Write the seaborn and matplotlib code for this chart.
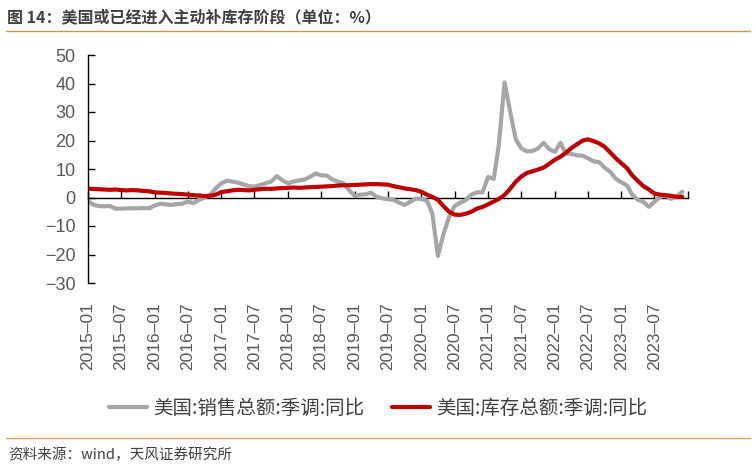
import pandas as pd
import matplotlib.pyplot as plt
import matplotlib.lines as mlines
import seaborn as sns

# --- data ---
months = pd.date_range("2015-01-01", "2023-12-01", freq="MS")

sales_yoy = [
    -1.2, -2.6, -3.0, -3.1, -3.0, -3.9, -3.9, -3.8, -3.8, -3.8, -3.7, -3.8,   # 2015
    -2.8, -2.2, -2.4, -2.6, -2.3, -2.2, -1.4, -2.0, -0.8, 0.0, 1.0, 3.2,      # 2016
    5.0, 5.9, 5.6, 5.2, 4.6, 4.0, 3.8, 4.4, 5.0, 5.6, 7.5, 6.0,               # 2017
    5.0, 5.6, 6.0, 6.3, 7.2, 8.4, 7.8, 7.7, 6.3, 5.6, 4.9, 2.6,               # 2018
    0.6, 1.0, 1.1, 1.7, 0.2, -0.3, -0.6, -0.8, -1.8, -2.6, -1.5, -0.4,        # 2019
    -0.5, -1.2, -5.5, -20.5, -13.0, -6.8, -3.0, -1.8, -0.9, 1.0, 1.8, 1.8,    # 2020
    7.2, 6.5, 18.7, 40.4, 30.4, 20.5, 17.3, 16.2, 16.3, 17.2, 19.2, 17.0,     # 2021
    16.0, 19.2, 15.5, 15.3, 14.8, 14.7, 13.8, 12.7, 12.4, 10.5, 9.0, 6.6,     # 2022
    5.3, 4.2, 1.0, -0.8, -1.5, -3.3, -1.5, 0.2, 0.8, -0.5, 0.6, 2.0,          # 2023
]

inventory_yoy = [
    3.1, 3.0, 2.9, 2.8, 2.7, 2.8, 2.6, 2.5, 2.6, 2.5, 2.3, 2.2,               # 2015
    1.8, 1.7, 1.6, 1.4, 1.3, 1.2, 1.0, 0.8, 0.7, 0.5, 0.6, 1.0,               # 2016
    1.9, 2.2, 2.5, 2.7, 2.6, 2.5, 2.7, 2.9, 3.1, 3.0, 3.2, 3.3,               # 2017
    3.4, 3.5, 3.4, 3.5, 3.6, 3.7, 3.8, 3.9, 4.0, 4.2, 4.3, 4.3,               # 2018
    4.4, 4.5, 4.6, 4.7, 4.7, 4.6, 4.5, 4.0, 3.6, 3.2, 2.9, 2.6,               # 2019
    2.0, 1.0, 0.2, -0.8, -3.0, -5.0, -6.0, -6.1, -5.7, -5.0, -3.9, -3.3,      # 2020
    -2.4, -1.4, -0.5, 0.9, 3.0, 5.5, 7.3, 8.6, 9.2, 9.8, 10.5, 11.8,          # 2021
    13.2, 14.3, 15.6, 17.3, 18.6, 19.9, 20.4, 19.8, 19.0, 17.8, 15.8, 13.8,   # 2022
    12.0, 10.3, 7.8, 5.8, 4.0, 2.8, 1.4, 1.0, 0.8, 0.6, 0.2, 0.2,             # 2023
]

tick_labels = ["2015–01", "2015–07", "2016–01", "2016–07", "2017–01", "2017–07",
               "2018–01", "2018–07", "2019–01", "2019–07", "2020–01", "2020–07",
               "2021–01", "2021–07", "2022–01", "2022–07", "2023–01", "2023–07"]
y_ticks = [50, 40, 30, 20, 10, 0, -10, -20, -30]

sales_name = "美国:销售总额:季调:同比"
inventory_name = "美国:库存总额:季调:同比"
title = "图 14：美国或已经进入主动补库存阶段（单位：%）"
source = "资料来源：wind，天风证券研究所"

# --- style ---
sns.set_theme(style="white")
plt.rcParams["font.family"] = ["Liberation Sans", "Noto Sans CJK SC", "DejaVu Sans"]
cjk = ["Noto Sans CJK SC", "DejaVu Sans"]
text_grey = "#595959"

fig = plt.figure(figsize=(7.56, 4.68), dpi=100)
ax = fig.add_axes([88 / 756, 1 - 283 / 468, 600 / 756, 228 / 468])

sns.lineplot(x=months, y=sales_yoy, ax=ax, color="#A6A6A6", linewidth=3.0, label=sales_name)
sns.lineplot(x=months, y=inventory_yoy, ax=ax, color="#C00000", linewidth=3.0, label=inventory_name)

ax.set_xlim(pd.Timestamp("2015-01-01"), pd.Timestamp("2024-01-01"))
ax.set_ylim(-30, 50)
ax.set_yticks(y_ticks)
ax.tick_params(axis="y", direction="in", length=5, width=1, color="black",
               labelsize=13, labelcolor=text_grey, pad=9, left=True)

# category labels sit below the plot area
label_dates = pd.date_range("2015-01-01", "2023-07-01", freq="6MS")
ax.set_xticks(label_dates)
ax.set_xticklabels(tick_labels, rotation=90)
ax.tick_params(axis="x", length=0, labelsize=12.5, labelcolor=text_grey, pad=14)
ax.set_xlabel("")

for s in ["top", "right", "bottom"]:
    ax.spines[s].set_visible(False)
ax.spines["left"].set_color("black")
ax.spines["left"].set_linewidth(1)

# zero line with tick marks (axis crosses at 0)
zero_axis = ax.secondary_xaxis(30 / 80)
zero_axis.set_xticks(pd.date_range("2015-01-01", "2024-01-01", freq="6MS"))
zero_axis.tick_params(axis="x", direction="in", length=5, width=1, color="black",
                      labelbottom=False, labeltop=False)
zero_axis.spines["bottom"].set_color("black")
zero_axis.spines["bottom"].set_linewidth(1)

ax.get_legend().remove()
handles = [mlines.Line2D([], [], color="#A6A6A6", linewidth=3.0),
           mlines.Line2D([], [], color="#C00000", linewidth=3.0)]
leg = fig.legend(handles, [sales_name, inventory_name], loc="center",
                 bbox_to_anchor=(0.5, 1 - 408 / 468), ncol=2, frameon=False,
                 prop={"family": cjk, "size": 14}, handlelength=2.0,
                 handletextpad=0.3, columnspacing=1.4)
for t in leg.get_texts():
    t.set_color("#404040")

# title, rules and source
fig.text(7 / 756, 1 - 17 / 468, title, fontsize=11.5, fontweight="bold",
         color="#404040", va="center", ha="left", family=cjk)
fig.add_artist(mlines.Line2D([6 / 756, 750 / 756], [1 - 31 / 468] * 2,
                             color="#C8995C", linewidth=1))
fig.add_artist(mlines.Line2D([6 / 756, 750 / 756], [1 - 438 / 468] * 2,
                             color="#E0A05A", linewidth=1))
fig.text(8 / 756, 1 - 455 / 468, source, fontsize=10.5, color="#404040",
         va="center", ha="left", family=cjk)

fig.savefig("out.png", dpi=100)
